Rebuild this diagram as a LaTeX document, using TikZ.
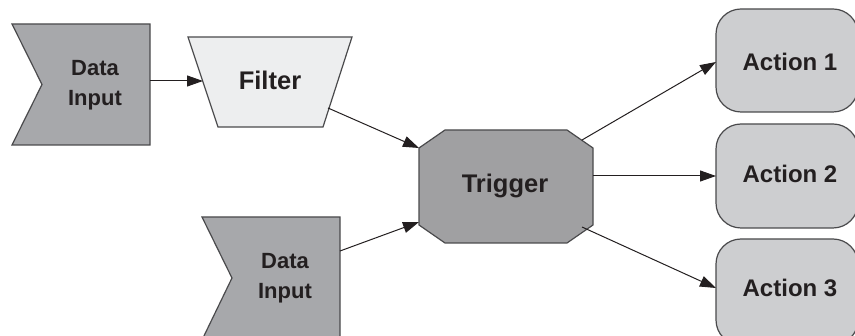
\documentclass[tikz,border=0pt]{standalone}
\usepackage{fontspec}
\setmainfont{Liberation Sans}
\usetikzlibrary{arrows.meta}
\definecolor{txt}{HTML}{231F20}
\definecolor{edge}{HTML}{4A4A4C}
\definecolor{dataf}{HTML}{A7A8AB}
\definecolor{filtf}{HTML}{EDEEEF}
\definecolor{trigf}{HTML}{A0A0A2}
\definecolor{actf}{HTML}{CDCED0}
\tikzset{
  shp/.style={draw=edge, line width=1.2pt, line join=miter},
  lbl/.style={text=txt, font=\bfseries\fontsize{24}{30}\selectfont, align=center, inner sep=0pt},
  blbl/.style={text=txt, font=\bfseries\fontsize{25.5}{30}\selectfont, align=center, inner sep=0pt},
  dlbl/.style={text=txt, font=\bfseries\fontsize{22}{30}\selectfont, align=center, inner sep=0pt},
  conn/.style={draw=txt, line width=1pt, -{Triangle[length=16pt,width=11pt]}},
}
\begin{document}
\begin{tikzpicture}[x=1pt,y=-1pt]
\useasboundingbox (0,0) rectangle (855,336);
\clip (0,0) rectangle (855,336);
% Data input 1
\draw[shp, fill=dataf] (12,24) -- (150,24) -- (150,145) -- (12,145) -- (42,84.5) -- cycle;
\node[dlbl] (d1) at (95,85) {Data\\Input};
\coordinate (d1out) at (150,81);
% Filter
\draw[shp, fill=filtf] (188,37) -- (352,37) -- (323,127) -- (218,127) -- cycle;
\node[blbl] (filter) at (270,80) {Filter};
\coordinate (fin) at (203,81);
\coordinate (fout) at (328,108);
% Data input 2
\draw[shp, fill=dataf] (202,217) -- (340,217) -- (340,340) -- (202,340) -- (232,278) -- cycle;
\node[dlbl] (d2) at (285,278) {Data\\Input};
\coordinate (d2out) at (340,251);
% Trigger
\draw[shp, fill=trigf] (445,130) -- (567,130) -- (593,148) -- (593,225) -- (567,243) -- (445,243) -- (419,225) -- (419,148) -- cycle;
\node[blbl] (trig) at (505,186) {Trigger};
\coordinate (tin1) at (419,148);
\coordinate (tin2) at (419,222);
\coordinate (tout1) at (582,140);
\coordinate (tout2) at (593,176);
\coordinate (tout3) at (582,227);
% Actions
\draw[shp, fill=actf, rounded corners=25pt] (716,9) rectangle (858,112);
\draw[shp, fill=actf, rounded corners=25pt] (716,124) rectangle (858,228);
\draw[shp, fill=actf, rounded corners=25pt] (716,239) rectangle (858,345);
\node[lbl] (a1) at (790,62) {Action 1};
\node[lbl] (a2) at (790,174) {Action 2};
\node[lbl] (a3) at (790,288) {Action 3};
\coordinate (a1in) at (716,62);
\coordinate (a2in) at (716,176);
\coordinate (a3in) at (716,288);
% connectors
\draw[conn] (d1out) -- (fin);
\draw[conn] (fout) -- (tin1);
\draw[conn] (d2out) -- (tin2);
\draw[conn] (tout1) -- (a1in);
\draw[conn] (tout2) -- (a2in);
\draw[conn] (tout3) -- (a3in);
\end{tikzpicture}
\end{document}
